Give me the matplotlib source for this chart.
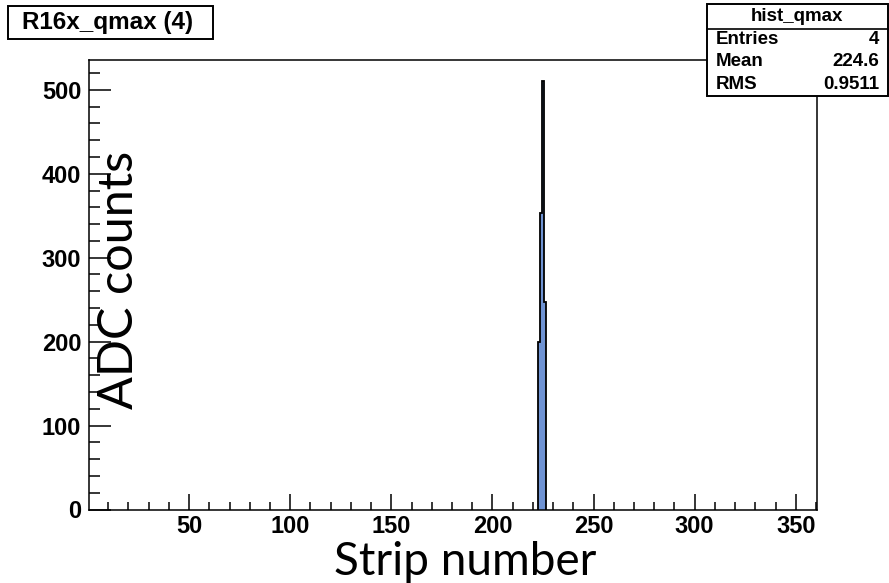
"""
ROOT style histogram of the max-charge strip for R16x.
"""
import matplotlib

matplotlib.use("Agg")
import matplotlib.pyplot as plt  # type: ignore
import numpy as np
from matplotlib.patches import Rectangle  # type: ignore
from matplotlib.ticker import MultipleLocator  # type: ignore

# histogram content
strip_bins = [223, 224, 225, 226]
adc_counts = [200, 353, 510, 247]

x_ticks = [50, 100, 150, 200, 250, 300, 350]
y_ticks = [0, 100, 200, 300, 400, 500]

hist_title = "R16x_qmax (4)"
stats_name = "hist_qmax"
stats_labels = ["Entries", "Mean", "RMS"]
stats_values = ["4", "224.6", "0.9511"]

x_label = "Strip number"
y_label = "ADC counts"

W, H = 889, 583
ROOT_FONT = "Liberation Sans"
LABEL_FONT = "Lato"
FILL = "#6f93d3"


def fig_xy(x, y):
    """Pixel position (from top left) to figure fraction"""
    return x / W, 1 - y / H


def add_box(fig, x0, y0, x1, y1):
    """White box with black border in pixel coords"""
    left, bottom = fig_xy(x0, y1)
    fig.patches.append(
        Rectangle(
            (left, bottom),
            (x1 - x0) / W,
            (y1 - y0) / H,
            transform=fig.transFigure,
            facecolor="white",
            edgecolor="black",
            linewidth=1.4,
            zorder=5,
        )
    )


def main() -> None:
    """Draw the histogram"""
    fig = plt.figure(figsize=(W / 100, H / 100), dpi=100)

    ax_l, ax_t = fig_xy(89, 60)
    ax_r, ax_b = fig_xy(817, 509.5)
    ax = fig.add_axes([ax_l, ax_b, ax_r - ax_l, ax_t - ax_b])

    edges = np.append(np.array(strip_bins) - 0.5, strip_bins[-1] + 0.5)
    ax.stairs(adc_counts, edges, fill=True, color=FILL, zorder=2)
    ax.stairs(adc_counts, edges, color="black", linewidth=1.3, baseline=0, zorder=3)

    ax.set_xlim(0.5, 360.5)
    ax.set_ylim(0, max(adc_counts) * 1.05)

    ax.set_xticks(x_ticks)
    ax.set_yticks(y_ticks)
    ax.xaxis.set_minor_locator(MultipleLocator(10))
    ax.yaxis.set_minor_locator(MultipleLocator(20))

    ax.tick_params(axis="both", which="both", direction="in", width=1.1, color="black")
    ax.tick_params(axis="x", which="major", length=11.5, pad=4)
    ax.tick_params(axis="x", which="minor", length=5.8)
    ax.tick_params(axis="y", which="major", length=15.8, pad=5.5)
    ax.tick_params(axis="y", which="minor", length=7.9)

    for lab in ax.get_xticklabels() + ax.get_yticklabels():
        lab.set_fontfamily(ROOT_FONT)
        lab.set_fontweight("bold")
        lab.set_fontsize(17)

    for spine in ax.spines.values():
        spine.set_linewidth(1.1)
        spine.set_zorder(4)

    # pasted-on axis titles
    fig.text(*fig_xy(465, 562), x_label, family=LABEL_FONT, fontsize=33,
             ha="center", va="center")
    fig.text(*fig_xy(119, 280), y_label, family=LABEL_FONT, fontsize=35,
             ha="center", va="center", rotation=90, zorder=6)

    # title box
    add_box(fig, 8, 6, 213, 39)
    fig.text(*fig_xy(22, 23), hist_title, family=ROOT_FONT, fontweight="bold",
             fontsize=17.5, ha="left", va="center", zorder=6)

    # stats box
    add_box(fig, 707, 4, 888, 96)
    x0, y0 = fig_xy(707, 29)
    x1, _ = fig_xy(888, 29)
    fig.lines.append(
        plt.Line2D([x0, x1], [y0, y0], transform=fig.transFigure,
                   color="black", linewidth=1.2, zorder=6)
    )
    fig.text(*fig_xy(797, 16.5), stats_name, family=ROOT_FONT, fontweight="bold",
             fontsize=13.5, ha="center", va="center", zorder=6)
    for i, (name, val) in enumerate(zip(stats_labels, stats_values)):
        y = 39 + i * 22.5
        fig.text(*fig_xy(716, y), name, family=ROOT_FONT, fontweight="bold",
                 fontsize=13.5, ha="left", va="center", zorder=6)
        fig.text(*fig_xy(879, y), val, family=ROOT_FONT, fontweight="bold",
                 fontsize=13.5, ha="right", va="center", zorder=6)

    fig.savefig("out.png", dpi=100)


if __name__ == "__main__":
    main()
